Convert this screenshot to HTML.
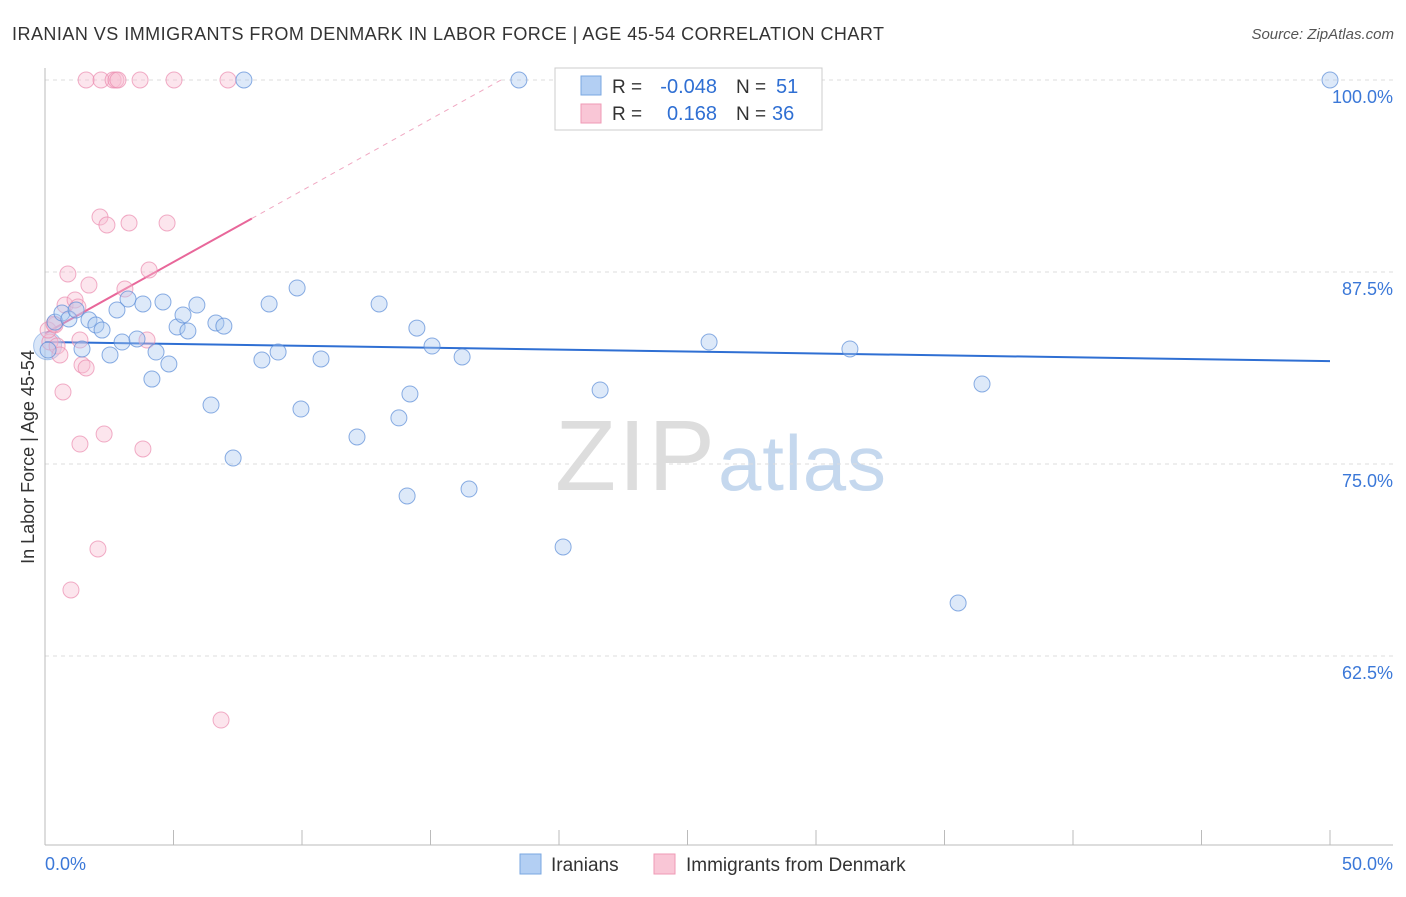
<!DOCTYPE html>
<html><head><meta charset="utf-8"><style>
body{margin:0;background:#fff;font-family:"Liberation Sans",sans-serif;}
svg text{font-family:"Liberation Sans",sans-serif;}
</style></head><body>
<svg id="chart" width="1406" height="892" xmlns="http://www.w3.org/2000/svg">
<text x="12" y="40" font-size="18" fill="#333" textLength="872">IRANIAN VS IMMIGRANTS FROM DENMARK IN LABOR FORCE | AGE 45-54 CORRELATION CHART</text>
<text x="1394" y="39" font-size="15" fill="#555" font-style="italic" text-anchor="end">Source: ZipAtlas.com</text>
<text x="34" y="457" font-size="18" fill="#333" text-anchor="middle" transform="rotate(-90 34 457)">In Labor Force | Age 45-54</text>
<text x="555" y="490" font-size="100" fill="#ddd" font-family="Liberation Serif" textLength="160">ZIP</text>
<text x="718" y="490" font-size="78" fill="#c5d8ee" textLength="168">atlas</text>
<g id="grid"></g><g id="axes"></g><g id="trend"></g><g id="pts"></g>
<g>
<rect x="555" y="68" width="267" height="62" fill="#fff" stroke="#ccc"/>
<rect x="581" y="76" width="20" height="19" fill="#b3cff3" stroke="#7aa7e0"/>
<rect x="581" y="104" width="20" height="19" fill="#f9c6d6" stroke="#ef9ab5"/>
<text x="612" y="93" font-size="19" fill="#333">R =</text>
<text x="717" y="93" font-size="20" fill="#2f6fd3" text-anchor="end">-0.048</text>
<text x="736" y="93" font-size="19" fill="#333">N =</text>
<text x="776" y="93" font-size="20" fill="#2f6fd3">51</text>
<text x="612" y="120" font-size="19" fill="#333">R =</text>
<text x="717" y="120" font-size="20" fill="#2f6fd3" text-anchor="end">0.168</text>
<text x="736" y="120" font-size="19" fill="#333">N =</text>
<text x="772" y="120" font-size="20" fill="#2f6fd3">36</text>
</g>
<g>
<rect x="520" y="854" width="21" height="20" fill="#b3cff3" stroke="#7aa7e0"/>
<text x="551" y="871" font-size="19" fill="#333">Iranians</text>
<rect x="654" y="854" width="21" height="20" fill="#f9c6d6" stroke="#ef9ab5"/>
<text x="686" y="871" font-size="19" fill="#333">Immigrants from Denmark</text>
</g>
</svg>
<script>
const blueX=[7.74,18.44,50,0.39,0.66,0.93,1.21,1.71,1.98,2.22,2.53,2.80,3.00,3.23,3.58,3.81,4.16,4.32,4.59,4.82,5.14,5.37,5.56,5.91,6.46,6.65,6.96,7.32,8.44,8.72,9.07,9.81,9.96,10.74,12.14,13.00,13.77,14.09,14.20,14.47,15.06,16.23,16.50,20.16,21.60,25.84,31.32,35.53,36.46,1.44,0.12];
const blueY=[100,100,100,84.24,84.83,84.44,85.03,84.38,84.05,83.72,82.10,85.03,82.94,85.74,83.14,85.42,80.53,82.29,85.55,81.51,83.92,84.70,83.66,85.35,78.84,84.18,83.98,75.39,81.77,85.42,82.29,86.46,78.58,81.84,76.76,85.42,78.0,72.92,79.56,83.85,82.68,81.97,73.37,69.60,79.82,82.94,82.49,65.95,80.21,82.49,82.42];
const pinkX=[1.60,2.18,2.65,2.76,2.84,3.70,5.02,7.12,2.14,2.41,3.27,4.75,0.89,1.71,4.05,3.11,0.78,1.17,1.28,0.39,0.19,0.47,0.58,1.36,1.44,1.60,0.70,2.30,1.36,3.81,3.97,2.06,1.01,6.85,0.12,0.35];
const pinkY=[100,100,100,100,100,100,100,100,91.08,90.56,90.69,90.69,87.37,86.65,87.63,86.39,85.35,85.68,85.22,84.05,82.94,82.68,82.10,83.07,81.45,81.25,79.69,76.95,76.30,75.98,83.07,69.47,66.80,58.33,83.72,84.11];
const yTicks=[100,87.5,75,62.5];
const yTickLabels=["100.0%","87.5%","75.0%","62.5%"];
const xTickLabels=["0.0%","50.0%"];
const blueTrend=[82.94,81.70];
const pinkTrend=[83.5,0.93];
const NS="http://www.w3.org/2000/svg";
const sx=v=>45+v*25.7, sy=v=>80+(100-v)*15.36;
function mk(p,t,a){const e=document.createElementNS(NS,t);for(const k in a)e.setAttribute(k,a[k]);document.getElementById(p).appendChild(e);return e;}
yTicks.forEach((t,i)=>{
 const l=mk('grid','line',{x1:45,x2:1393,y1:sy(t),y2:sy(t),stroke:'#ddd','stroke-dasharray':'4,4'});
 
 
 const tx=mk('grid','text',{x:1393,y:sy(t)+23,'font-size':18,fill:'#3b78d8','text-anchor':'end'});
 tx.textContent=yTickLabels[i];
 
 
});
let a=mk('axes','line',{x1:45,x2:45,y1:68,y2:845,stroke:'#bbb'});


a=mk('axes','line',{x1:45,x2:1393,y1:845,y2:845,stroke:'#bbb'});


for(let i=0;i<=10;i++){const t=mk('axes','line',{x1:sx(i*5),x2:sx(i*5),y1:830,y2:845,stroke:'#bbb'});
 
 }
[[0,'start'],[50,'end']].forEach((d,i)=>{const t=mk('axes','text',{x:sx(d[0])+(i?63:0),y:870,'font-size':18,fill:'#3b78d8','text-anchor':i?'end':'start'});
 t.textContent=xTickLabels[i];
 
 });
let tl=mk('trend','line',{x1:sx(0),y1:sy(blueTrend[0]),x2:sx(50),y2:sy(blueTrend[1]),stroke:'#2f6fd3','stroke-width':2});


const pe=8.05, pend=(100-pinkTrend[0])/pinkTrend[1];
tl=mk('trend','line',{x1:sx(0),y1:sy(pinkTrend[0]),x2:sx(pe),y2:sy(pinkTrend[0]+pinkTrend[1]*pe),stroke:'#e8679a','stroke-width':2});


tl=mk('trend','line',{x1:sx(pe),y1:sy(pinkTrend[0]+pinkTrend[1]*pe),x2:sx(pend),y2:sy(100),stroke:'#f0a8c2','stroke-width':1,'stroke-dasharray':'5,5'});


let big=mk('pts','circle',{cx:sx(0.1),cy:sy(82.7),r:14,fill:'rgba(170,200,240,0.45)',stroke:'rgba(100,150,220,0.5)'});


pinkX.forEach((x,i)=>{const c=mk('pts','circle',{cx:sx(x),cy:sy(pinkY[i]),r:8,fill:'rgba(248,190,210,0.4)',stroke:'rgba(235,140,175,0.7)'});
 
 });
blueX.forEach((x,i)=>{const c=mk('pts','circle',{cx:sx(x),cy:sy(blueY[i]),r:8,fill:'rgba(170,200,240,0.4)',stroke:'rgba(90,140,215,0.7)'});
 
 });
</script>
</body></html>
